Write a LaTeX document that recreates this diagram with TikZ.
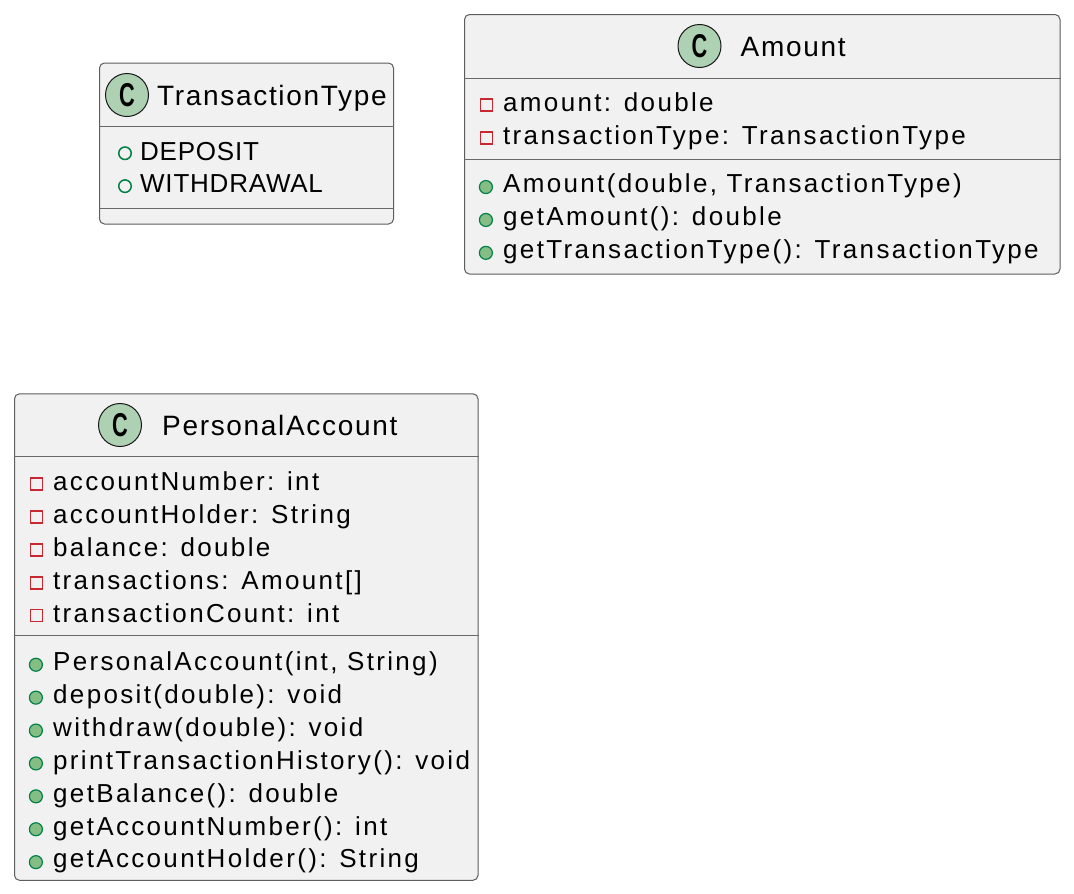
\documentclass[tikz,border=0pt]{standalone}
\usepackage{fontspec}
\setmainfont{Liberation Sans}
\newfontfamily\membertext[LetterSpace=9]{Liberation Sans}
\newfontfamily\titletext[LetterSpace=6]{Liberation Sans}
\newfontfamily\enumtext[LetterSpace=3]{Liberation Sans}
\usepackage{tikz}
\usetikzlibrary{positioning}
\definecolor{boxfill}{HTML}{F1F1F1}
\definecolor{boxline}{HTML}{181818}
\definecolor{iconfill}{HTML}{ADD1B2}
\definecolor{privred}{HTML}{C82930}
\definecolor{pubgreen}{HTML}{038048}
\definecolor{pubfill}{HTML}{84BE84}

\begin{document}
\begin{tikzpicture}[x=1pt, y=-1pt,
    classbox/.style={draw=boxline!70, line width=1pt, fill=boxfill, rounded corners=5pt, anchor=north west, inner sep=0pt},
    divider/.style={draw=boxline!65, line width=1pt},
    classicon/.style={circle, draw=boxline, line width=1pt, fill=iconfill, minimum size=43pt, inner sep=0pt, font=\fontsize{33}{33}\selectfont\bfseries},
    classtitle/.style={inner sep=0pt, text height=24pt, text depth=4pt, font=\titletext\fontsize{28}{32}\selectfont},
    member/.style={inner sep=0pt, text height=22pt, text depth=10.5pt, font=\membertext\fontsize{26}{30}\selectfont},
    enumitem/.style={member, font=\enumtext\fontsize{26}{30}\selectfont},
    privmark/.style={rectangle, draw=privred, line width=1.5pt, minimum size=12pt, inner sep=0pt, yshift=0.7pt},
    pubmark/.style={circle, draw=pubgreen, fill=pubfill, line width=1.2pt, minimum size=13pt, inner sep=0pt},
    enummark/.style={circle, draw=pubgreen, line width=1.5pt, minimum size=12.5pt, inner sep=0pt, yshift=1pt}]
    \path[use as bounding box, fill=white] (0,0) rectangle (1074,894);

    % TransactionType
    \node[classbox, minimum width=294pt, minimum height=161pt] (transactiontype) at (99,62.5) {};
    \draw[divider] ([yshift=-64pt]transactiontype.north west) -- ([yshift=-64pt]transactiontype.north east);
    \draw[divider] ([yshift=-146pt]transactiontype.north west) -- ([yshift=-146pt]transactiontype.north east);
    \node[classicon] (transactiontypeicon) at (127,95) {\scalebox{0.66}[1]{C}};
    \node[classtitle, right=8pt of transactiontypeicon] (transactiontypename) {TransactionType};
    \node[enumitem, anchor=base west] (depositvalue) at (140,160) {DEPOSIT};
    \node[enumitem, below=0pt of depositvalue.south west, anchor=north west] (withdrawalvalue) {WITHDRAWAL};
    \node[enummark, left=8pt of depositvalue] (depositmark) {};
    \node[enummark, left=8pt of withdrawalvalue] (withdrawalmark) {};

    % Amount
    \node[classbox, minimum width=595.5pt, minimum height=259.5pt] (amount) at (464,14) {};
    \draw[divider] ([yshift=-64pt]amount.north west) -- ([yshift=-64pt]amount.north east);
    \draw[divider] ([yshift=-145.5pt]amount.north west) -- ([yshift=-145.5pt]amount.north east);
    \node[classicon] (amounticon) at (699.5,46) {\scalebox{0.66}[1]{C}};
    \node[classtitle, right=19pt of amounticon] (amountname) {Amount};
    \node[member, anchor=base west] (amountvalue) at (503,111.5) {amount: double};
    \node[member, below=0pt of amountvalue.south west, anchor=north west] (amounttype) {transactionType: TransactionType};
    \node[member, below=15.5pt of amounttype.south west, anchor=north west] (amountctor) {Amount(double, TransactionType)};
    \node[member, below=0pt of amountctor.south west, anchor=north west] (getamount) {getAmount(): double};
    \node[member, below=0pt of getamount.south west, anchor=north west] (gettype) {getTransactionType(): TransactionType};
    \node[privmark, left=10pt of amountvalue] (amountvaluemark) {};
    \node[privmark, left=10pt of amounttype] (amounttypemark) {};
    \node[pubmark, left=10pt of amountctor] (amountctormark) {};
    \node[pubmark, left=10pt of getamount] (getamountmark) {};
    \node[pubmark, left=10pt of gettype] (gettypemark) {};

    % PersonalAccount
    \node[classbox, minimum width=463.5pt, minimum height=486.5pt] (personalaccount) at (14,393.3) {};
    \draw[divider] ([yshift=-63.5pt]personalaccount.north west) -- ([yshift=-63.5pt]personalaccount.north east);
    \draw[divider] ([yshift=-241.7pt]personalaccount.north west) -- ([yshift=-241.7pt]personalaccount.north east);
    \node[classicon] (personalaccounticon) at (120,425) {\scalebox{0.66}[1]{C}};
    \node[classtitle, right=20pt of personalaccounticon] (personalaccountname) {PersonalAccount};
    \node[member, anchor=base west] (accountnumber) at (53,490.5) {accountNumber: int};
    \node[member, below=0pt of accountnumber.south west, anchor=north west] (accountholder) {accountHolder: String};
    \node[member, below=0pt of accountholder.south west, anchor=north west] (balance) {balance: double};
    \node[member, below=0pt of balance.south west, anchor=north west] (transactions) {transactions: Amount[]};
    \node[member, below=0pt of transactions.south west, anchor=north west] (transactioncount) {transactionCount: int};
    \node[member, below=15.5pt of transactioncount.south west, anchor=north west] (ctor) {PersonalAccount(int, String)};
    \node[member, below=0pt of ctor.south west, anchor=north west] (deposit) {deposit(double): void};
    \node[member, below=0pt of deposit.south west, anchor=north west] (withdraw) {withdraw(double): void};
    \node[member, below=0pt of withdraw.south west, anchor=north west] (printhistory) {printTransactionHistory(): void};
    \node[member, below=0pt of printhistory.south west, anchor=north west] (getbalance) {getBalance(): double};
    \node[member, below=0pt of getbalance.south west, anchor=north west] (getaccountnumber) {getAccountNumber(): int};
    \node[member, below=0pt of getaccountnumber.south west, anchor=north west] (getaccountholder) {getAccountHolder(): String};
    \node[privmark, left=10pt of accountnumber] (accountnumbermark) {};
    \node[privmark, left=10pt of accountholder] (accountholdermark) {};
    \node[privmark, left=10pt of balance] (balancemark) {};
    \node[privmark, left=10pt of transactions] (transactionsmark) {};
    \node[privmark, left=10pt of transactioncount] (transactioncountmark) {};
    \node[pubmark, left=10pt of ctor] (ctormark) {};
    \node[pubmark, left=10pt of deposit] (depositmark2) {};
    \node[pubmark, left=10pt of withdraw] (withdrawmark) {};
    \node[pubmark, left=10pt of printhistory] (printhistorymark) {};
    \node[pubmark, left=10pt of getbalance] (getbalancemark) {};
    \node[pubmark, left=10pt of getaccountnumber] (getaccountnumbermark) {};
    \node[pubmark, left=10pt of getaccountholder] (getaccountholdermark) {};
\end{tikzpicture}
\end{document}
